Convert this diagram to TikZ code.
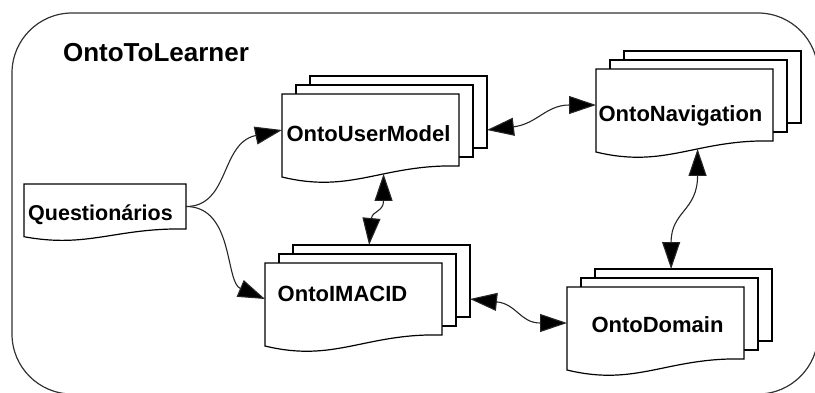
\documentclass[tikz,border=0pt]{standalone}
\usepackage{fontspec}
\setmainfont{Liberation Sans}
\usetikzlibrary{calc,arrows.meta}

\tikzset{
  sheet/.style={draw=black, fill=white, line width=1.2pt, rectangle, inner sep=0pt,
    outer sep=0pt, minimum width=177pt, minimum height=72pt, anchor=north west},
  front/.style={sheet, draw=none, fill=none},
  lbl/.style={font=\fontsize{22}{26}\selectfont\bfseries, text=black, inner sep=0pt, anchor=base},
  title/.style={font=\fontsize{26}{30}\selectfont\bfseries, text=black, inner sep=0pt, anchor=base},
  link/.style={line width=1.1pt, draw=black!85,
    {Triangle[length=27pt,width=18pt,fill=black]}-{Triangle[length=27pt,width=18pt,fill=black]}},
  oneway/.style={line width=1.1pt, draw=black!85,
    -{Triangle[length=27pt,width=18pt,fill=black]}},
  frame/.style={draw=black!80, line width=1.2pt, rounded corners=60pt},
}

% front sheet of a document: straight top and sides, wavy bottom edge;
% #1 node, #2 depth of the wave, #3 name of a point on the wave
\newcommand\docfront[3]{%
  \draw[line width=1.2pt, fill=white] (#1.north west) -- (#1.north east) -- (#1.south east)
    .. controls ($(#1.south east)!0.435!(#1.south west)+(0,-2*#2)$)
            and ($(#1.south west)!0.395!(#1.south east)+(0,28*#2)$)
    .. ($(#1.south west)+(0,11*#2)$) coordinate[pos=0.4] (#3) -- cycle;
}

\begin{document}
\begin{tikzpicture}[x=1pt, y=-1pt]
  \useasboundingbox (0,0) rectangle (815,392);
  \clip (0,0) rectangle (815,392);

  % enclosing system
  \draw[frame] (12,13) rectangle (818,394);
  \node[title] (sys) at (156,61.7) {OntoToLearner};

  % questionnaire document
  \node[front, minimum width=162pt, minimum height=45pt] (qs) at (24,184) {};
  \docfront{qs}{0.7}{qs-w}
  \node[lbl, font=\fontsize{21.5}{26}\selectfont\bfseries] (qs-t) at (100.5,220) {Questionários};

  % OntoUserModel
  \node[sheet] (um3) at (310,76) {};
  \node[sheet] (um2) at (296,85) {};
  \node[front] (um) at (282,94) {};
  \docfront{um}{1}{um-w}
  \node[lbl] (um-t) at (368.5,141.5) {OntoUserModel};

  % OntoNavigation
  \node[sheet] (nv3) at (624,51) {};
  \node[sheet] (nv2) at (610,60) {};
  \node[front] (nv) at (596,69) {};
  \docfront{nv}{1}{nv-w}
  \node[lbl] (nv-t) at (680.5,121) {OntoNavigation};

  % OntoIMACID
  \node[sheet] (im3) at (293,245) {};
  \node[sheet] (im2) at (279,254) {};
  \node[front] (im) at (265,263) {};
  \docfront{im}{1}{im-w}
  \node[lbl] (im-t) at (342.5,301) {OntoIMACID};

  % OntoDomain
  \node[sheet] (od3) at (595,269) {};
  \node[sheet] (od2) at (581,278) {};
  \node[front] (od) at (567,287) {};
  \docfront{od}{1}{od-w}
  \node[lbl] (od-t) at (657.5,332) {OntoDomain};

  % connectors
  \draw[oneway] (qs.east) .. controls +(44,0) and +(-62,13) .. (um.west);
  \draw[oneway] (qs.east) .. controls +(48,0) and +(-40,-17) .. (im.west);
  \draw[link] ($(um3.south east)!0.25!(um3.north east)$) .. controls +(50,-6) and +(-50,0) .. (nv.west);
  \draw[link] (um-w) .. controls +(0,38) and +(3,-34) .. ($(im3.north west)!0.43!(im3.north east)$);
  \draw[link] (nv-w) .. controls +(0,62) and +(0,-58) .. ($(od3.north west)!0.43!(od3.north east)$);
  \draw[link] ($(im3.south east)!0.25!(im3.north east)$) .. controls +(47,5) and +(-47,0) .. (od.west);
\end{tikzpicture}
\end{document}
